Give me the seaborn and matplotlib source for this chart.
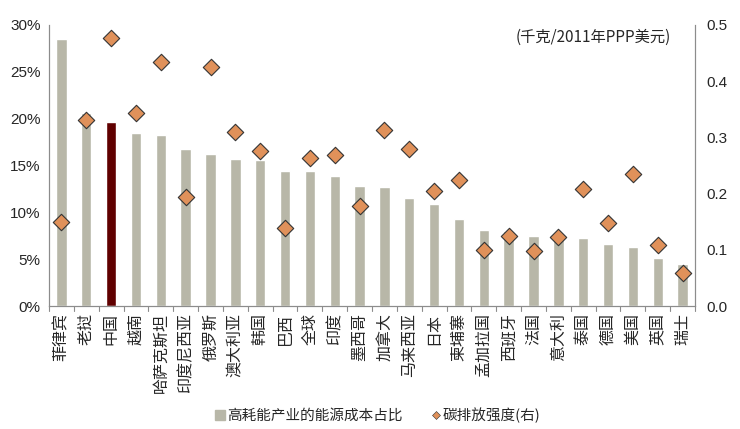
import numpy as np
import pandas as pd
import matplotlib
matplotlib.use("Agg")
import matplotlib.pyplot as plt
from matplotlib.lines import Line2D
import seaborn as sns

countries = ["菲律宾", "老挝", "中国", "越南", "哈萨克斯坦", "印度尼西亚", "俄罗斯", "澳大利亚",
             "韩国", "巴西", "全球", "印度", "墨西哥", "加拿大", "马来西亚", "日本", "柬埔寨",
             "孟加拉国", "西班牙", "法国", "意大利", "泰国", "德国", "美国", "英国", "瑞士"]
energy_share = [28.5, 20.6, 19.6, 18.5, 18.25, 16.75, 16.2, 15.7, 15.6, 14.4, 14.4, 13.9, 12.8,
                12.7, 11.5, 10.9, 9.3, 8.1, 8.0, 7.5, 7.4, 7.25, 6.6, 6.3, 5.1, 4.5]
carbon_intensity = [0.150, 0.331, 0.476, 0.344, 0.435, 0.194, 0.425, 0.309, 0.276, 0.138, 0.263,
                    0.268, 0.178, 0.313, 0.279, 0.205, 0.224, 0.100, 0.125, 0.097, 0.123, 0.208,
                    0.147, 0.235, 0.109, 0.059]

sns.set_style("white")
plt.rcParams["font.family"] = ["Liberation Sans", "Noto Sans CJK SC", "DejaVu Sans"]

bar_grey = "#b8b7a8"
china_red = "#600000"
diamond = "#e0915a"
axis_grey = "#8c8c8c"

df = pd.DataFrame({"country": countries, "share": energy_share, "carbon": carbon_intensity})
colors = [china_red if c == "中国" else bar_grey for c in countries]

fig = plt.figure(figsize=(7.4, 4.29), dpi=100)
ax = fig.add_axes([49 / 740, 1 - 306 / 429, (695 - 49) / 740, (306 - 25) / 429])

sns.barplot(data=df, x="country", y="share", hue="country", palette=colors,
            legend=False, width=0.42, ax=ax, saturation=1)
ax.set_ylim(0, 30)
ax.set_xlim(-0.5, len(countries) - 0.5)
ax.set_yticks(range(0, 31, 5))
ax.set_yticklabels([f"{v}%" for v in range(0, 31, 5)], fontsize=11)
ax.set_xlabel("")
ax.set_ylabel("")

# rotated labels, reading bottom to top
ax.set_xticks(range(len(countries)))
ax.set_xticklabels(countries, fontsize=11.5, rotation=90, ha="center", va="top",
                   family=["Noto Sans CJK SC", "DejaVu Sans"])
ax.tick_params(axis="x", length=0, pad=5)
ax.tick_params(axis="y", length=0, pad=6)
for b in np.arange(-0.5, len(countries), 1):
    ax.plot([b, b], [0, -0.5], color=axis_grey, lw=0.8, clip_on=False)

ax2 = ax.twinx()
sns.scatterplot(x=np.arange(len(countries)), y=carbon_intensity, marker="D", s=70,
                color=diamond, edgecolor="#333333", linewidth=0.8, ax=ax2, zorder=5)
ax2.set_ylim(0, 0.5)
ax2.set_yticks(np.arange(0, 0.51, 0.1))
ax2.set_yticklabels([f"{v:.1f}" for v in np.arange(0, 0.51, 0.1)], fontsize=11)
ax2.tick_params(axis="y", length=0, pad=8)

for a in (ax, ax2):
    a.spines["top"].set_visible(False)
    for s in ("left", "right", "bottom"):
        a.spines[s].set_color(axis_grey)
        a.spines[s].set_linewidth(0.8)

ax2.text(0.962, 0.985, "(千克/2011年PPP美元)", transform=ax.transAxes, ha="right", va="top",
         fontsize=11, family=["Noto Sans CJK SC", "DejaVu Sans"])

handles = [Line2D([], [], marker="s", color=bar_grey, linestyle="none", markersize=6.5),
           Line2D([], [], marker="D", color=diamond, markeredgecolor="#333333",
                  markeredgewidth=0.4, linestyle="none", markersize=4.5)]
fig.legend(handles, ["高耗能产业的能源成本占比", "碳排放强度(右)"], loc="center",
           bbox_to_anchor=(377 / 740, 1 - 415 / 429), ncol=2, frameon=False,
           prop={"family": ["Noto Sans CJK SC", "DejaVu Sans"], "size": 10.5},
           handletextpad=0.05, columnspacing=1.8, handlelength=0.9)

fig.savefig("out.png", dpi=100)
